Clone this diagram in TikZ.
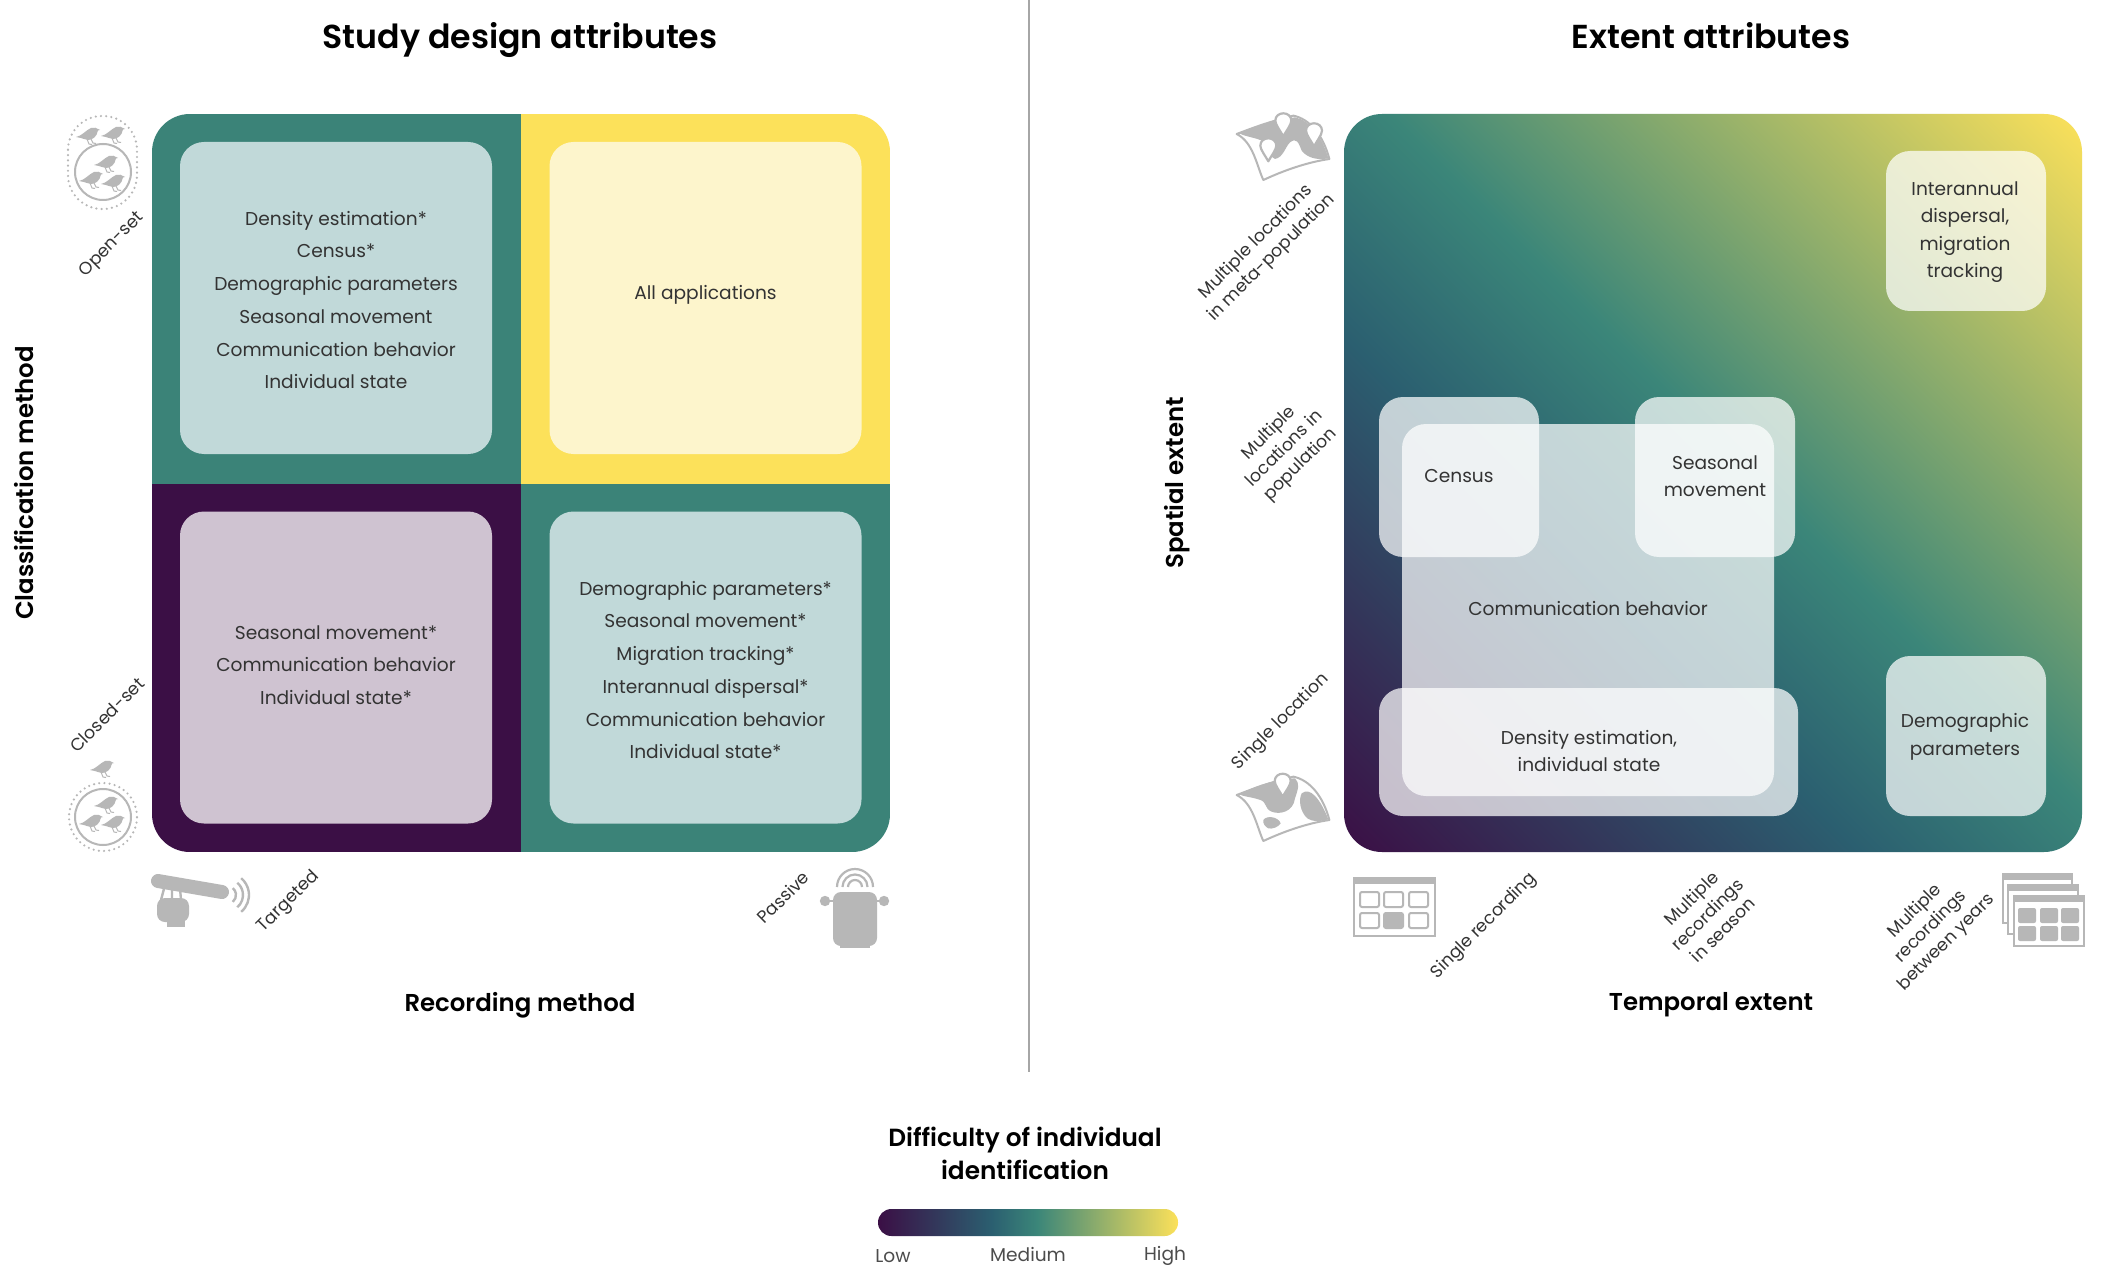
\documentclass[tikz,border=0pt]{standalone}
\usepackage{fontspec}
\setmainfont{Poppins}
\newfontfamily\headf{Poppins}[UprightFont=* SemiBold]
\definecolor{vpurple}{HTML}{3B0F45}
\definecolor{vteal}{HTML}{3B8378}
\definecolor{vyellow}{HTML}{FCE15A}
\definecolor{boxteal}{HTML}{C1D9D9}
\definecolor{boxyellow}{HTML}{FDF5CC}
\definecolor{boxpurple}{HTML}{CFC3D1}
\definecolor{icong}{HTML}{B7B7B7}
\definecolor{txt}{HTML}{333333}
\pgfdeclareverticalshading{diagv}{100bp}{
  rgb(0bp)=(.231,.059,.271); rgb(14.64bp)=(.231,.059,.271);
  rgb(39.4bp)=(.169,.373,.439); rgb(52.1bp)=(.231,.525,.475);
  rgb(85.36bp)=(.988,.882,.353); rgb(100bp)=(.988,.882,.353)}
\pgfdeclarehorizontalshading{legendv}{100bp}{
  rgb(0bp)=(.231,.059,.271); rgb(25bp)=(.231,.059,.271);
  rgb(44bp)=(.169,.373,.439); rgb(51.5bp)=(.231,.525,.475);
  rgb(75bp)=(.988,.882,.353); rgb(100bp)=(.988,.882,.353)}
\tikzset{
  x=.5pt,y=-.5pt,
  softbox/.style={rectangle,inner sep=0pt,fill=white,fill opacity=.72,rounded corners=12pt},
  solidbox/.style={rectangle,inner sep=0pt,rounded corners=12pt,minimum width=156pt,minimum height=156pt},
  bodytext/.style={inner sep=0pt,align=center,text=txt,font=\fontsize{9.3}{16.35}\selectfont},
  righttext/.style={inner sep=0pt,align=center,text=txt,font=\fontsize{9.3}{13.7}\selectfont},
  ticktext/.style={inner sep=0pt,align=center,rotate=45,text=txt,font=\fontsize{8.7}{11.1}\selectfont},
  headtext/.style={inner sep=0pt,anchor=base,align=center,text=black,font=\headf\fontsize{16.6}{20}\selectfont},
  axistext/.style={inner sep=0pt,align=center,text=black,font=\headf\fontsize{12.2}{16.5}\selectfont},
  legendtext/.style={inner sep=0pt,text=black!70,font=\fontsize{9.3}{11}\selectfont},
  dotline/.style={draw=icong,line width=1.2pt,line cap=round,dash pattern=on 0pt off 2.6pt},
  iconline/.style={draw=icong,line width=1pt},
  birdicon/.pic={
    \fill[icong] (-12,2) .. controls (-6,1) and (-2,-5) .. (3,-7) .. controls (6,-8) and (9,-7) .. (10,-6)
      -- (12,-5) -- (10,-4.5) .. controls (9,2) and (4,5) .. (0,5) .. controls (-3,5) and (-5,3) .. (-12,2) -- cycle;
    \draw[icong,line width=.5pt] (-1,4) -- (1,9) -- (4,9.5) (3,4) -- (5,8) -- (8,8.5);
  },
  paperbase/.pic={
    \filldraw[fill=white,draw=icong,line width=1pt,line join=round,scale=1/3]
      (110,165) .. controls (150,150) and (200,130) .. (280,110) .. controls (330,120) and (370,170) .. (388,240)
      .. controls (320,250) and (250,275) .. (190,303) .. controls (170,260) and (160,190) .. (110,165) -- cycle;
  },
  pinicon/.pic={
    \filldraw[fill=white,draw=icong,line width=1.1pt,line join=round,scale=1/3]
      (0,45) .. controls (-8,30) and (-24,10) .. (-24,-2) .. controls (-24,-16) and (-12,-24) .. (0,-24)
      .. controls (12,-24) and (24,-16) .. (24,-2) .. controls (24,10) and (8,30) .. (0,45) -- cycle;
  },
}
\begin{document}
\begin{tikzpicture}
\path[fill=white,use as bounding box] (0,0) rectangle (2112,1278);

% divider
\coordinate (divtop) at (1029,0);
\coordinate (divbot) at (1029,1072);
\draw[color=black!35,line width=1.1pt] (divtop) -- (divbot);

% titles
\node[headtext] (t1) at (520,49) {Study design attributes};
\node[headtext] (t2) at (1711,49) {Extent attributes};

% left matrix
\begin{scope}
  \clip[rounded corners=19pt] (152,114) rectangle (890,852);
  \fill[vteal] (152,114) rectangle (521,483.5);
  \fill[vyellow] (521,114) rectangle (890,483.5);
  \fill[vpurple] (152,483.5) rectangle (521,852);
  \fill[vteal] (521,483.5) rectangle (890,852);
\end{scope}
\node[solidbox,fill=boxteal] (b11) at (336,298) {};
\node[solidbox,fill=boxyellow] (b12) at (705.5,298) {};
\node[solidbox,fill=boxpurple] (b21) at (336,667.5) {};
\node[solidbox,fill=boxteal] (b22) at (705.5,667.5) {};
\node[bodytext] (l11) at (336,300) {Density estimation*\\Census*\\Demographic parameters\\Seasonal movement\\Communication behavior\\Individual state};
\node[bodytext] (l12) at (705.5,295) {All applications};
\node[bodytext] (l21) at (336,665) {Seasonal movement*\\Communication behavior\\Individual state*};
\node[bodytext] (l22) at (705.5,670) {Demographic parameters*\\Seasonal movement*\\Migration tracking*\\Interannual dispersal*\\Communication behavior\\Individual state*};

% left axes
\node[axistext,rotate=90] (a1) at (24,483) {Classification method};
\node[axistext] (a2) at (520,1005) {Recording method};
\node[ticktext] (k1) at (112,245) {Open-set};
\node[ticktext] (k2) at (107,715) {Closed-set};
\node[ticktext] (k3) at (289,902) {Targeted};
\node[ticktext] (k4) at (783,897) {Passive};

% open-set icon
\draw[dotline,rounded corners=17pt] (68,116) rectangle (137,209);
\draw[icong,line width=1pt] (103,172) circle[radius=14pt];
\foreach \p in {(88,135),(113,134),(106,163),(91,179),(113,182)} \pic at \p {birdicon};

% closed-set icon
\draw[dotline] (103,817) circle[radius=17pt];
\draw[icong,line width=1pt] (103,817) circle[radius=14pt];
\foreach \p in {(102,768),(106,804),(91,822),(113,823)} \pic at \p {birdicon};

% microphone
\draw[icong,line width=7pt,line cap=round] (158,881) -- (222,892);
\fill[icong,rounded corners=4pt] (157,898) rectangle (189,922);
\fill[icong] (167,920) rectangle (185,927);
\draw[icong,line width=1.2pt] (165,885) -- (161,900) (172,887) -- (172,900) (180,888) -- (181,900);
\coordinate (mc) at (227,895);
\draw[icong,line width=1.2pt] (mc) ++(50:9) arc[start angle=-50,end angle=50,radius=4.5pt];
\draw[icong,line width=1.2pt] (mc) ++(50:16) arc[start angle=-50,end angle=50,radius=8pt];
\draw[icong,line width=1.2pt] (mc) ++(50:22) arc[start angle=-50,end angle=50,radius=11pt];

% passive recorder
\fill[icong,rounded corners=4pt] (833,892) rectangle (877,946);
\fill[icong] (840,942) rectangle (870,948);
\draw[icong,line width=1.4pt] (825,901) -- (884,901);
\fill[icong] (825,901) circle[radius=2.6pt] (884,901) circle[radius=2.6pt];
\coordinate (pc) at (855,887);
\draw[icong,line width=1.1pt] (pc) ++(-7,0) arc[start angle=180,end angle=0,radius=3.5pt];
\draw[icong,line width=1.1pt] (pc) ++(-12.5,0) arc[start angle=180,end angle=0,radius=6.25pt];
\draw[icong,line width=1.1pt] (pc) ++(-18,0) arc[start angle=180,end angle=0,radius=9pt];

% right matrix
\node[rectangle,inner sep=0pt,rounded corners=19pt,minimum width=369pt,minimum height=369pt,shading=diagv,shading angle=-45] (rp) at (1713,483) {};
\node[softbox,minimum width=186pt,minimum height=186pt] (rcomm) at (1588,610) {};
\node[softbox,minimum width=80pt,minimum height=80pt] (rcens) at (1459,477) {};
\node[softbox,minimum width=80pt,minimum height=80pt] (rseas) at (1715,477) {};
\node[softbox,minimum width=209.5pt,minimum height=64pt] (rdens) at (1588.5,752) {};
\node[softbox,minimum width=80pt,minimum height=80pt] (rint) at (1966,231) {};
\node[softbox,minimum width=80pt,minimum height=80pt] (rdem) at (1966,736) {};
\node[righttext] (lcens) at (1459,476) {Census};
\node[righttext] (lseas) at (1715,476) {Seasonal\\movement};
\node[righttext] (lcomm) at (1588,609) {Communication behavior};
\node[righttext] (ldens) at (1589,751) {Density estimation,\\individual state};
\node[righttext] (lint) at (1965,232) {Interannual\\dispersal,\\migration\\tracking};
\node[righttext] (ldem) at (1965,737) {Demographic\\parameters};

% right axes
\node[axistext,rotate=90] (a3) at (1177,483) {Spatial extent};
\node[axistext] (a4) at (1711,1005) {Temporal extent};
\node[ticktext] (k5) at (1264,250) {Multiple locations\\in meta-population};
\node[ticktext] (k6) at (1285,449) {Multiple\\locations in\\population};
\node[ticktext] (k7) at (1281,722) {Single location};
\node[ticktext] (k8) at (1484,926) {Single recording};
\node[ticktext] (k9) at (1707,914) {Multiple\\recordings\\in season};
\node[ticktext] (k10) at (1931,927) {Multiple\\recordings\\between years};

% single-location map
\begin{scope}[shift={(1200,740)}]
  \pic at (0,0) {paperbase};
  \begin{scope}[scale=1/3]
    \fill[icong] (118,163) .. controls (160,140) and (220,118) .. (285,115) .. controls (300,130) and (295,145) .. (285,175)
      .. controls (280,215) and (240,225) .. (215,215) .. controls (190,205) and (205,185) .. (175,178) .. controls (150,170) and (130,170) .. (118,163) -- cycle;
    \fill[icong] (305,160) .. controls (330,140) and (360,175) .. (385,238) .. controls (360,245) and (335,245) .. (322,235)
      .. controls (300,215) and (295,180) .. (305,160) -- cycle;
    \fill[icong] (190,240) .. controls (200,225) and (235,230) .. (242,250) .. controls (235,262) and (215,268) .. (205,265) .. controls (195,260) and (188,250) .. (190,240) -- cycle;
  \end{scope}
  \pic at (82.7,41.7) {pinicon};
\end{scope}

% meta-population map
\begin{scope}[shift={(1200,79)}]
  \pic at (0,0) {paperbase};
  \begin{scope}[scale=1/3]
    \fill[icong] (118,163) .. controls (160,145) and (220,125) .. (285,115) .. controls (330,125) and (365,170) .. (385,238)
      .. controls (350,245) and (320,235) .. (305,215) .. controls (295,190) and (290,175) .. (270,190)
      .. controls (255,205) and (250,235) .. (225,240) .. controls (205,235) and (205,205) .. (195,190) .. controls (170,175) and (140,175) .. (118,163) -- cycle;
  \end{scope}
  \pic at (83.3,42.3) {pinicon};
  \pic at (68.3,67.3) {pinicon};
  \pic at (114,52.3) {pinicon};
\end{scope}

% single calendar
\draw[iconline] (1354,878) rectangle (1435,936);
\fill[icong] (1353,877) rectangle (1436,884);
\draw[iconline,rounded corners=1pt] (1360,892) rectangle (1379,907);
\draw[iconline,rounded corners=1pt] (1384,892) rectangle (1403,907);
\draw[iconline,rounded corners=1pt] (1409,892) rectangle (1428,907);
\draw[iconline,rounded corners=1pt] (1360,913) rectangle (1379,928);
\filldraw[icong,line width=1pt,rounded corners=1pt] (1384,913) rectangle (1403,928);
\draw[iconline,rounded corners=1pt] (1409,913) rectangle (1428,928);

% stacked calendars
\filldraw[fill=white,draw=icong,line width=1pt] (2003,874) rectangle (2072,923);
\fill[icong] (2002,873) rectangle (2073,880);
\filldraw[fill=white,draw=icong,line width=1pt] (2008,885) rectangle (2078,934);
\fill[icong] (2007,884) rectangle (2079,891);
\filldraw[fill=white,draw=icong,line width=1pt] (2014,896) rectangle (2084,946);
\fill[icong] (2013,895) rectangle (2085,902);
\foreach \cx in {2018,2040,2061} \foreach \cy in {908,926}
  \fill[icong,rounded corners=1pt] (\cx,\cy) rectangle ++(18,15);

% legend
\node[axistext,font=\headf\fontsize{12.4}{16.5}\selectfont] (lt) at (1025,1153) {Difficulty of individual\\identification};
\node[rectangle,inner sep=0pt,rounded corners=6.7pt,minimum width=150pt,minimum height=13.5pt,shading=legendv] (lg) at (1028,1222.5) {};
\node[legendtext] (ll) at (893,1256) {Low};
\node[legendtext] (lm) at (1028,1254) {Medium};
\node[legendtext] (lh) at (1165,1256) {High};
\end{tikzpicture}
\end{document}
